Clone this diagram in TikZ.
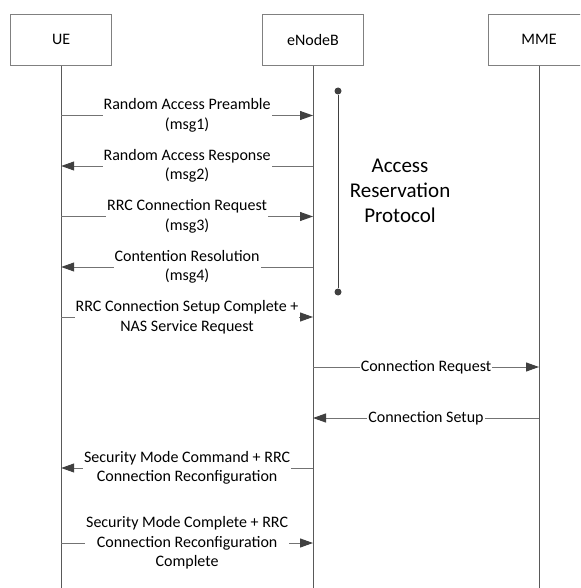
\documentclass[tikz,border=0pt]{standalone}
\usepackage{fontspec}
\setmainfont{Carlito}
\usetikzlibrary{arrows.meta}

\begin{document}
\begin{tikzpicture}[x=1pt,y=-1pt]
    % `entity' is used for the three boxes at the top.
    % `lifeline' and `msg' are used for the vertical and horizontal lines.
    % `msglabel' is used for the texts sitting on the messages.
    \tikzstyle{entity} = [draw=black!50,line width=0.8pt,minimum width=101pt,minimum height=51pt,font=\fontsize{16}{19.5}\selectfont]
    \tikzstyle{lifeline} = [draw=black!65,line width=1pt]
    \tikzstyle{msg} = [draw=black!55,line width=1pt,-{Triangle[length=13pt,width=9pt,color=black!75]}]
    \tikzstyle{msglabel} = [fill=white,align=center,inner xsep=1pt,inner ysep=0pt,font=\fontsize{16}{19.5}\selectfont]
    \tikzstyle{bardot} = [fill=black!75,circle,inner sep=0pt,minimum size=7pt]
    %
    \clip (0,0) rectangle (580,588);
    % Draw entities.
    \node[entity] (ue) at (61.2,39.7) {UE};
    \node[entity] (enb) at (313,39.7) {eNodeB};
    \node[entity] (mme) at (539,39.7) {MME};
    % Draw lifelines.
    \coordinate (ueEnd) at (ue |- 0,588);
    \coordinate (enbEnd) at (enb |- 0,588);
    \coordinate (mmeEnd) at (mme |- 0,588);
    \draw[lifeline] (ue.south) -- (ueEnd)  (enb.south) -- (enbEnd)  (mme.south) -- (mmeEnd);
    % Draw access reservation bar.
    \node[bardot] (arpTop) at (338,91) {};
    \node[bardot] (arpBot) at (338,292) {};
    \draw[line width=1pt,black!75] (arpTop) -- (arpBot);
    \node[font=\fontsize{21}{25}\selectfont,align=center] (arp) at (400,191) {Access\\Reservation\\Protocol};
    % Draw messages.
    \draw[msg] (ue |- 0,115.5) -- node[msglabel] {Random Access Preamble\\(msg1)} (enb |- 0,115.5);
    \draw[msg] (enb |- 0,166) -- node[msglabel] {Random Access Response\\(msg2)} (ue |- 0,166);
    \draw[msg] (ue |- 0,216.5) -- node[msglabel] {RRC Connection Request\\(msg3)} (enb |- 0,216.5);
    \draw[msg] (enb |- 0,267) -- node[msglabel] {Contention Resolution\\(msg4)} (ue |- 0,267);
    \draw[msg] (ue |- 0,317) -- node[msglabel] {RRC Connection Setup Complete +\\NAS Service Request} (enb |- 0,317);
    \draw[msg] (enb |- 0,367) -- node[msglabel] {Connection Request} (mme |- 0,367);
    \draw[msg] (mme |- 0,418) -- node[msglabel] {Connection Setup} (enb |- 0,418);
    \draw[msg] (enb |- 0,468) -- node[msglabel] {Security Mode Command + RRC\\Connection Reconfiguration} (ue |- 0,468);
    \draw[msg] (ue |- 0,543) -- node[msglabel] {Security Mode Complete + RRC\\Connection Reconfiguration\\Complete} (enb |- 0,543);
\end{tikzpicture}
\end{document}
